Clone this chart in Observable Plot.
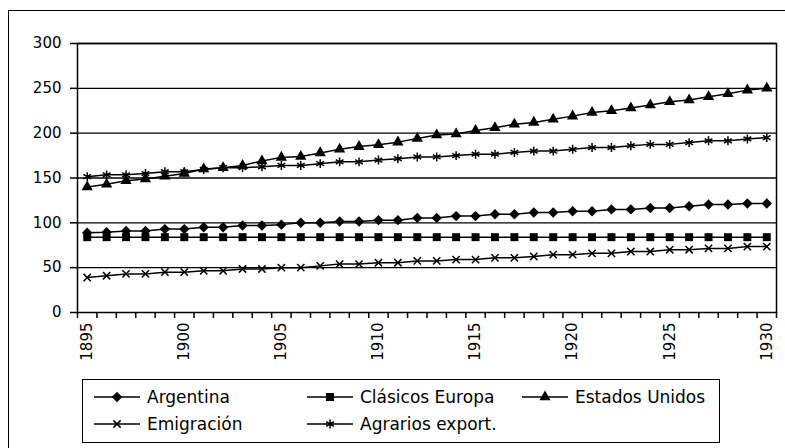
<!DOCTYPE html>
<html><head><meta charset="utf-8">
<script src="https://cdn.jsdelivr.net/npm/d3@7"></script>
<script src="https://cdn.jsdelivr.net/npm/@observablehq/plot@0.6"></script>
<style>
html,body{margin:0;padding:0;background:#fff;}
#wrap{position:relative;width:785px;height:448px;overflow:hidden;font-family:"DejaVu Sans",sans-serif;color:#000;}
#outer{position:absolute;left:8px;top:10px;width:820px;height:480px;border:1.5px solid #000;}
#chart{position:absolute;left:0;top:0;}
#legend{position:absolute;left:82px;top:379px;width:638px;height:64px;border:1px solid #000;box-sizing:border-box;background:#fff;}
.item{position:absolute;display:flex;align-items:center;font-size:17px;line-height:20px;height:20px;white-space:nowrap;}
.item svg{display:block;margin-right:7px;}
</style></head>
<body><div id="wrap"><div id="outer"></div><div id="chart"></div><div id="legend"></div></div>
<script>
const years = [1895,1896,1897,1898,1899,1900,1901,1902,1903,1904,1905,1906,1907,1908,1909,1910,1911,1912,
               1913,1914,1915,1916,1917,1918,1919,1920,1921,1922,1923,1924,1925,1926,1927,1928,1929,1930];
const labelYears = [1895,1900,1905,1910,1915,1920,1925,1930];
const yTicks = [0,50,100,150,200,250,300];

const argentina = [89,89.5,91,91,93,93,95,95,97,97,98,100,100,101.5,101.5,103,103,105.5,
                   105.5,107.5,107.5,109.5,109.5,111.5,111.5,113,113,115,115,116.5,116.5,118.5,120.5,120.5,121.5,121.5];
const clasicosEuropa = [84,84,84,84,84,84,84,84,84,84,84,84,84,84,84,84,84,84,
                        84,84,84,84,84,84,84,84,84,84,84,84,84,84,84,84,84,84];
const estadosUnidos = [140,143,147,149,152,155,160,161.5,164,169,173,174,178,182,185,187,190,194,
                       198,199,203,206,210,212,215.5,219,223,225,228,231.5,235,237,240.5,244,248,250];
const emigracion = [39,41,43,43,45,45,46.5,46.5,48.5,48.5,50,50,52,54,54,55.5,55.5,57.5,
                    57.5,59,59,61,61,62.5,64.5,64.5,66,66,68,68,70,70,71.5,71.5,73.5,73.5];
const agrariosExport = [151.5,153.5,153.5,155,157,157,159.5,161.5,161.5,162.5,164,164,166,168,168,170,171.5,173.5,
                        173.5,175,176.5,176.5,178.5,180,180,182,184,184,186,187.5,187.5,189.5,191.5,191.5,193.5,195];

const series = [
  {name:"Argentina", values:argentina, symbol:"diamond2", r:4.7, filled:true},
  {name:"Clásicos Europa", values:clasicosEuropa, symbol:"square", r:4.5, filled:true},
  {name:"Estados Unidos", values:estadosUnidos, symbol:"triangle", r:4.2, filled:true},
  {name:"Emigración", values:emigracion, symbol:"times", r:3.4, filled:false},
  {name:"Agrarios export.", values:agrariosExport, symbol:"asterisk", r:4.2, filled:false}
];
const rows = series.flatMap(s => years.map((yr, i) => ({serie: s.name, year: yr, value: s.values[i]})));
const boundaries = d3.range(years[0] - 0.5, years[years.length - 1] + 1, 1);

const chart = Plot.plot({
  width: 785, height: 370,
  marginLeft: 77, marginRight: 9, marginTop: 43, marginBottom: 58,
  x: {domain: [years[0] - 0.5, years[years.length - 1] + 0.5]},
  y: {domain: [0, 300]},
  style: {fontFamily: "DejaVu Sans", fontSize: "15px", color: "#000", background: "transparent", overflow: "visible"},
  marks: [
    Plot.ruleY(yTicks.filter(v => v > 0), {stroke: "#000", strokeWidth: 1.3}),
    Plot.frame({stroke: "#000", strokeWidth: 1.5}),
    Plot.axisY({ticks: yTicks, tickSize: 7, tickPadding: 9, fontSize: 15, label: null, strokeWidth: 1.5}),
    Plot.axisX({ticks: boundaries, tickSize: 6, tickFormat: () => "", label: null, strokeWidth: 1.5}),
    Plot.axisX({ticks: labelYears, tickSize: 0, tickPadding: 10, tickRotate: -90, tickFormat: d => String(d), fontSize: 15, label: null}),
    ...series.map(s => Plot.line(rows.filter(d => d.serie === s.name), {x: "year", y: "value", stroke: "#000", strokeWidth: 1.5})),
    ...series.map(s => Plot.dot(rows.filter(d => d.serie === s.name), {
      x: "year", y: "value", symbol: s.symbol, r: s.r,
      fill: s.filled ? "#000" : "none", stroke: s.filled ? "none" : "#000", strokeWidth: 1.5
    }))
  ]
});
document.getElementById("chart").appendChild(chart);

// Legend
const legend = document.getElementById("legend");
const slots = [
  {left: 11, top: 7}, {left: 224, top: 7}, {left: 439, top: 7},
  {left: 11, top: 34}, {left: 224, top: 34}
];
const d3sym = {diamond2: d3.symbolDiamond2, square: d3.symbolSquare, triangle: d3.symbolTriangle, times: d3.symbolTimes, asterisk: d3.symbolAsterisk};
series.forEach((s, i) => {
  const div = document.createElement("div");
  div.className = "item";
  div.style.left = slots[i].left + "px";
  div.style.top = slots[i].top + "px";
  const path = d3.symbol(d3sym[s.symbol], Math.PI * s.r * s.r)();
  div.innerHTML = `<svg width="46" height="20" viewBox="0 0 46 20"><line x1="0" y1="10" x2="46" y2="10" stroke="#000" stroke-width="1.5"/>` +
    `<path transform="translate(23,10)" d="${path}" fill="${s.filled ? "#000" : "none"}" stroke="${s.filled ? "none" : "#000"}" stroke-width="1.5"/></svg>` +
    `<span>${s.name}</span>`;
  legend.appendChild(div);
});
</script>
</body></html>
